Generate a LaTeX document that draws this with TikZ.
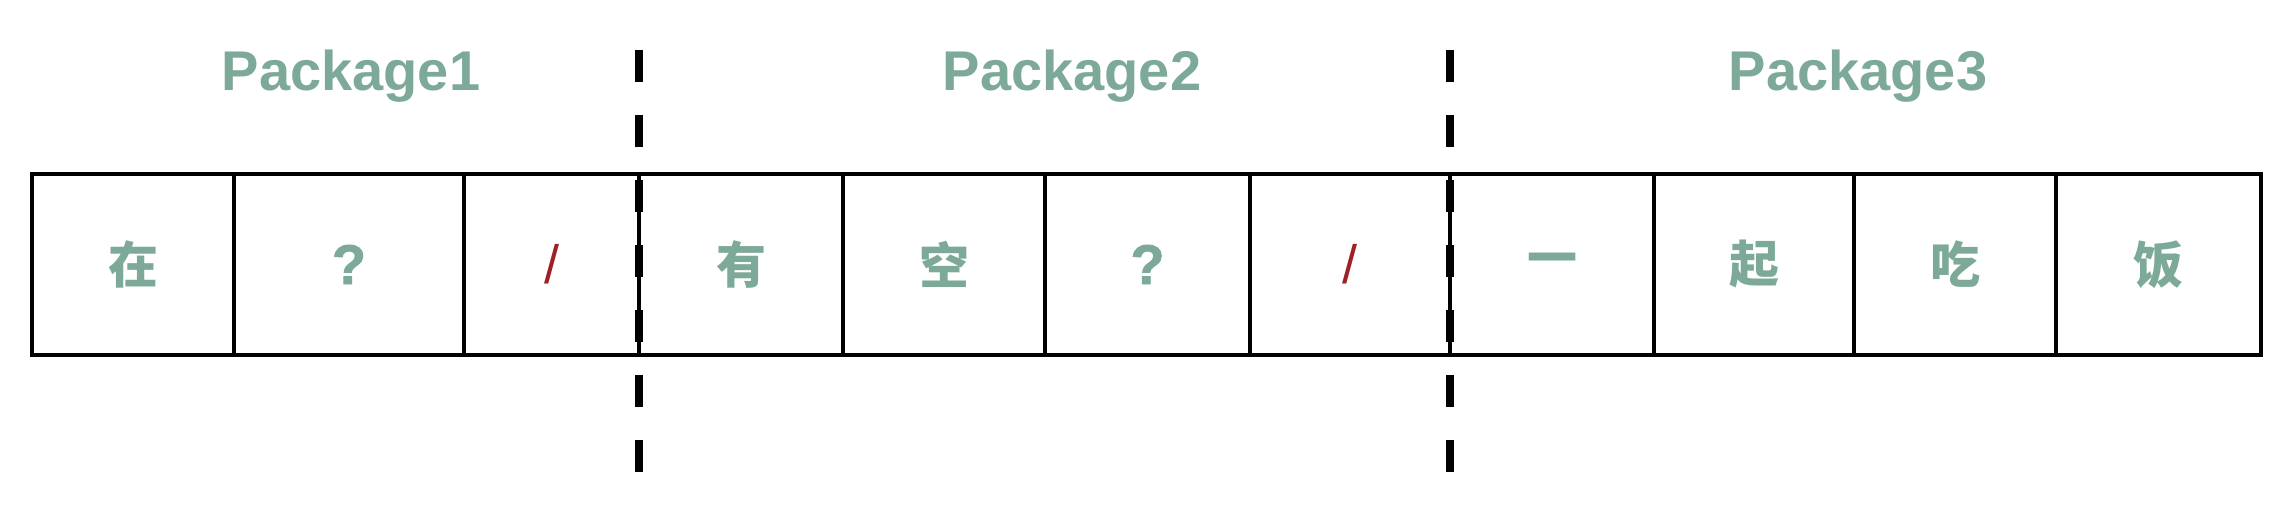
\documentclass[tikz,border=0pt]{standalone}
\usepackage{fontspec}
\setmainfont{Liberation Sans}
\newfontfamily\cjk{Noto Sans CJK SC}
\newfontfamily\qfont[BoldFeatures={FakeBold=1.5}]{Liberation Sans}
\definecolor{pkggreen}{HTML}{7DAA98}
\definecolor{slashred}{HTML}{A0202A}
\begin{document}
\begin{tikzpicture}[x=0.5pt,y=-0.5pt,
  cellbox/.style={draw=black,line width=1.6pt,minimum height=90.5pt,inner sep=0pt,anchor=center},
  cjkchar/.style={text=pkggreen,font=\cjk\bfseries\fontsize{25pt}{30pt}\selectfont},
  qmark/.style={text=pkggreen,font=\qfont\bfseries\fontsize{28pt}{32pt}\selectfont},
  redslash/.style={text=slashred,font=\fontsize{27pt}{32pt}\selectfont},
  pkglabel/.style={text=pkggreen,font=\bfseries\fontsize{28pt}{32pt}\selectfont,anchor=base,inner sep=0pt},
  divider/.style={line width=3.6pt,dash pattern=on 16pt off 16.5pt}]
\useasboundingbox (0,0) rectangle (2278,512);
\fill[white] (0,0) rectangle (2278,512);
% cells
\node[cellbox,minimum width=101pt,cjkchar] (c1) at (133,264.5) {在};
\node[cellbox,minimum width=115pt,qmark] (c2) at (349,264.5) {?};
\node[cellbox,minimum width=87.5pt,redslash] (c3) at (551.5,264.5) {/};
\node[cellbox,minimum width=102pt,cjkchar] (c4) at (741,264.5) {有};
\node[cellbox,minimum width=101pt,cjkchar] (c5) at (944,264.5) {空};
\node[cellbox,minimum width=102.5pt,qmark] (c6) at (1147.5,264.5) {?};
\node[cellbox,minimum width=100pt,redslash] (c7) at (1350,264.5) {/};
\node[cellbox,minimum width=102pt,cjkchar] (c8) at (1552,264.5) {一};
\node[cellbox,minimum width=100pt,cjkchar] (c9) at (1754,264.5) {起};
\node[cellbox,minimum width=101pt,cjkchar] (c10) at (1955,264.5) {吃};
\node[cellbox,minimum width=102.5pt,cjkchar] (c11) at (2158.5,264.5) {饭};
% package labels
\node[pkglabel] (p1) at (351,91) {Package1};
\node[pkglabel] (p2) at (1072,91) {Package2};
\node[pkglabel] (p3) at (1858,91) {Package3};
% dashed dividers
\coordinate (d1top) at (639,50);
\coordinate (d1bot) at (639,472);
\coordinate (d2top) at (1450,50);
\coordinate (d2bot) at (1450,472);
\draw[divider] (d1top) -- (d1bot);
\draw[divider] (d2top) -- (d2bot);
\end{tikzpicture}
\end{document}
